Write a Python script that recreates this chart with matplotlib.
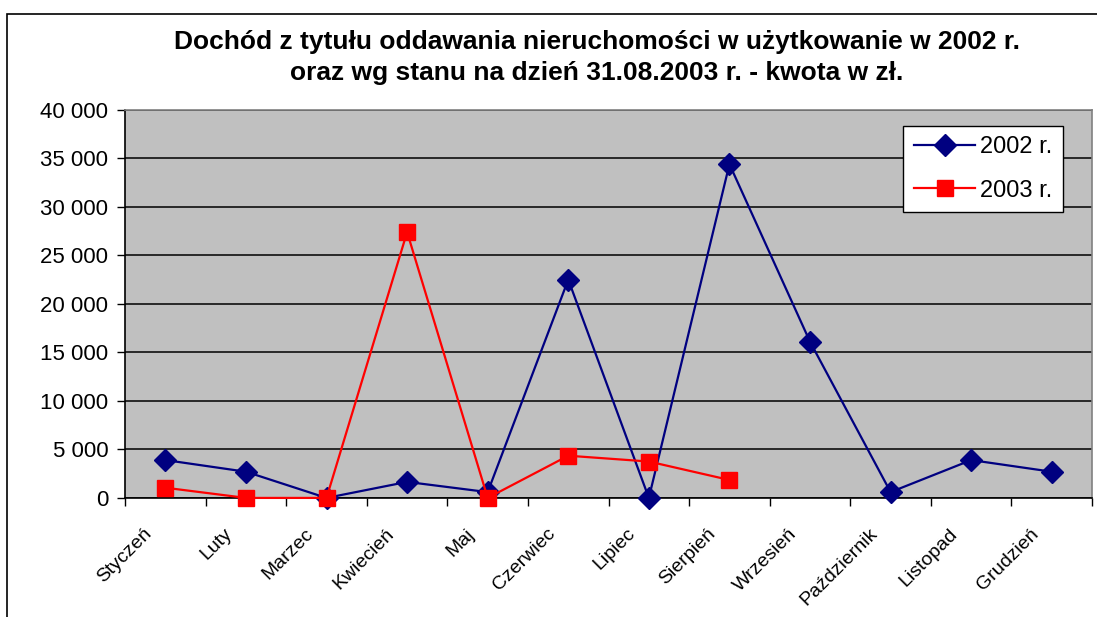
import matplotlib.pyplot as plt
from matplotlib.patches import Rectangle
from matplotlib.ticker import FuncFormatter, MultipleLocator
from matplotlib.transforms import ScaledTranslation

plt.rcParams['font.family'] = ['Liberation Sans', 'DejaVu Sans']

months = ['Styczeń', 'Luty', 'Marzec', 'Kwiecień', 'Maj', 'Czerwiec',
          'Lipiec', 'Sierpień', 'Wrzesień', 'Październik', 'Listopad', 'Grudzień']
income_2002 = [3900, 2700, 0, 1650, 600, 22500, 0, 34400, 16100, 600, 3900, 2700]
income_2003 = [1050, 0, 0, 27400, 0, 4350, 3750, 1850]

fig = plt.figure(figsize=(10.97, 6.17), dpi=100)
ax = fig.add_axes([0.114, 0.193, 0.8815, 0.629])

# outer frame of the chart area
fig.patches.append(Rectangle((7 / 1097, -0.05), 1.1, 1 - 14 / 617 + 0.05,
                             transform=fig.transFigure, fill=False,
                             edgecolor='black', linewidth=1.2))

ax.set_facecolor('#c0c0c0')
x = list(range(len(months)))
ax.plot(x, income_2002, color='#000080', marker='D', markersize=11,
        linewidth=1.6, label='2002 r.', clip_on=False, zorder=3)
ax.plot(x[:len(income_2003)], income_2003, color='#ff0000', marker='s',
        markersize=12, linewidth=1.6, label='2003 r.', clip_on=False, zorder=4)

ax.set_xlim(-0.5, len(months) - 0.5)
ax.set_ylim(0, 40000)
ax.yaxis.set_major_locator(MultipleLocator(5000))
ax.yaxis.set_major_formatter(FuncFormatter(lambda v, p: f'{int(v):,}'.replace(',', ' ')))
ax.grid(axis='y', color='black', linewidth=1.1)
ax.set_axisbelow(True)

ax.set_xticks([i - 0.5 for i in range(len(months) + 1)])
ax.set_xticklabels([])
ax.set_xticks(x, minor=True)
ax.set_xticklabels(months, minor=True, rotation=45, ha='right', va='center',
                   rotation_mode='anchor', fontsize=14)
ax.tick_params(axis='x', which='minor', length=0, pad=24)
ax.tick_params(axis='x', which='major', length=6, width=1, color='black')
ax.tick_params(axis='y', length=6, width=1, labelsize=16, pad=6)
shift = ScaledTranslation(-16 / 100, 0, fig.dpi_scale_trans)
for lbl in ax.get_xticklabels(minor=True):
    lbl.set_transform(lbl.get_transform() + shift)

for side in ['top', 'right']:
    ax.spines[side].set_color('#808080')
    ax.spines[side].set_linewidth(1.2)
for side in ['left', 'bottom']:
    ax.spines[side].set_color('black')
    ax.spines[side].set_linewidth(1.2)

leg = ax.legend(loc='upper right', bbox_to_anchor=(0.970, 0.9588), fontsize=17,
                frameon=True, fancybox=False, borderpad=0.45, handlelength=2.6,
                handletextpad=0.2, labelspacing=0.9, borderaxespad=0)
leg.get_frame().set_edgecolor('black')
leg.get_frame().set_linewidth(1.0)
leg.get_frame().set_alpha(1)

fig.text(0.544, 1 - 49 / 617, 'Dochód z tytułu oddawania nieruchomości w użytkowanie w 2002 r.',
         ha='center', va='baseline', fontsize=19, fontweight='bold')
fig.text(0.544, 1 - 80 / 617, 'oraz wg stanu na dzień 31.08.2003 r. - kwota w zł.',
         ha='center', va='baseline', fontsize=19, fontweight='bold')

fig.savefig('out.png', dpi=100)
